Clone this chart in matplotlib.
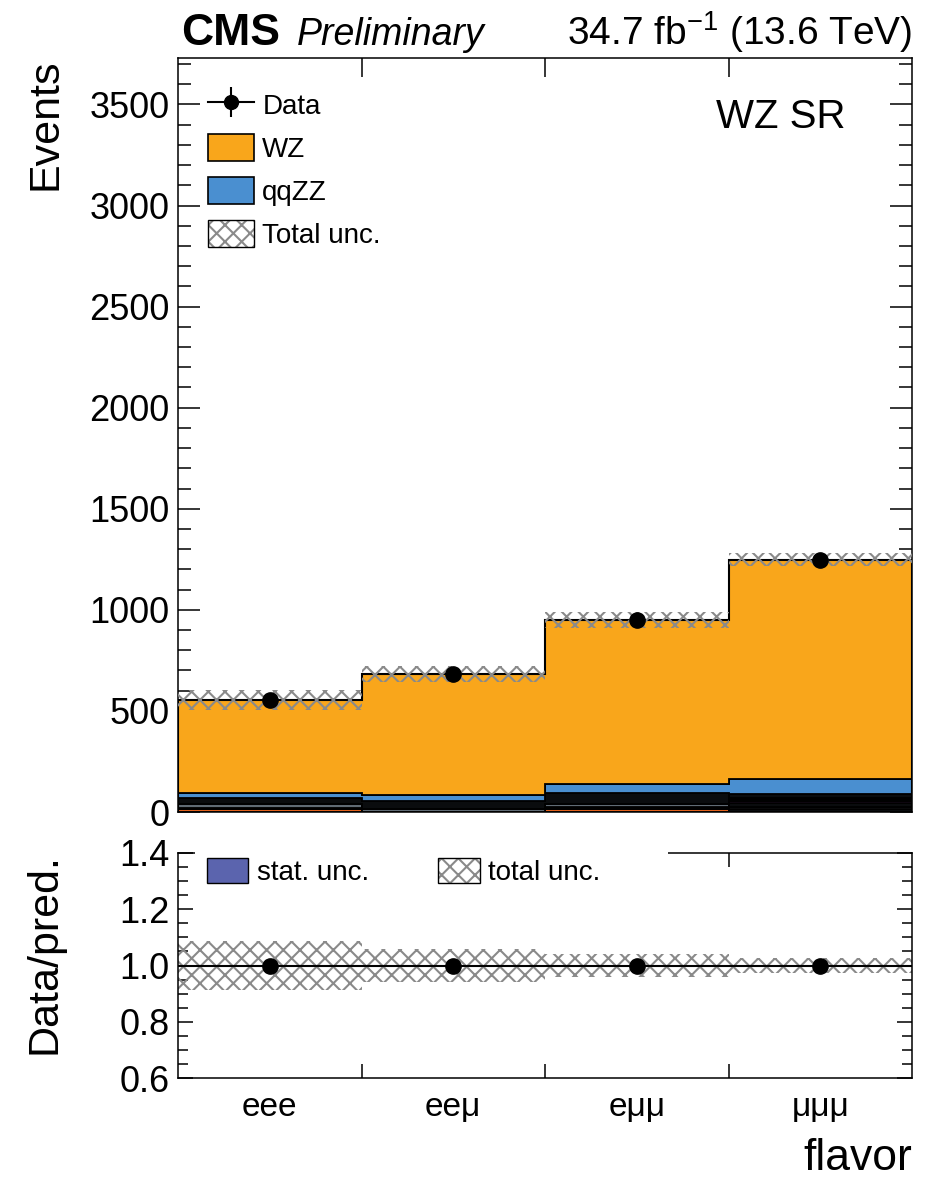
import numpy as np
import matplotlib
matplotlib.use("Agg")
import matplotlib.pyplot as plt
from matplotlib.patches import Patch, Rectangle
from matplotlib.lines import Line2D
from matplotlib.legend_handler import HandlerTuple
from matplotlib.ticker import MultipleLocator, FixedLocator, NullFormatter, FixedFormatter

plt.rcParams['font.family'] = ['Liberation Sans', 'DejaVu Sans']
plt.rcParams['hatch.linewidth'] = 1.5

# ---------------- data ----------------
categories = ["eee", "ee\u03bc", "e\u03bc\u03bc", "\u03bc\u03bc\u03bc"]
data = [554, 683, 950, 1248]
wz = [458, 597, 810, 1086]
qqzz = [25, 32, 48, 74]
# minor backgrounds (not in legend), bottom to top
bkg_red = [13, 0, 15, 0]
bkg_black1 = [8, 0, 10, 15]
bkg_gray = [20, 13, 17, 10]
bkg_black2 = [30, 41, 50, 21]
bkg_purple1 = [0, 0, 0, 8]
bkg_black3 = [0, 0, 0, 10]
bkg_purple2 = [0, 0, 0, 7]
bkg_black4 = [0, 0, 0, 17]
total_unc_rel = [0.086, 0.060, 0.040, 0.025]
stat_unc_rel = [0.002, 0.002, 0.002, 0.001]

C_WZ = "#f9a61b"
C_QQZZ = "#4a8fd0"
C_RED = "#e0601c"
C_GRAY = "#606b74"
C_BLACK = "#0a0c0e"
C_PURPLE = "#8e3fa0"
C_STAT = "#5b64ae"
C_HATCH = "#8a8a8a"

stack = [
    (bkg_red, C_RED),
    (bkg_black1, C_BLACK),
    (bkg_gray, C_GRAY),
    (bkg_black2, C_BLACK),
    (bkg_purple1, C_PURPLE),
    (bkg_black3, C_BLACK),
    (bkg_purple2, C_PURPLE),
    (bkg_black4, C_BLACK),
    (qqzz, C_QQZZ),
    (wz, C_WZ),
]

nb = len(categories)
edges = np.arange(nb + 1, dtype=float)
centers = edges[:-1] + 0.5

W, H = 935, 1177
fig = plt.figure(figsize=(W / 100, H / 100), dpi=100)

def ax_rect(l, r, t, b):
    return [l / W, 1 - b / H, (r - l) / W, (b - t) / H]

ax = fig.add_axes(ax_rect(178, 912, 58, 812))
rax = fig.add_axes(ax_rect(178, 912, 853, 1078))

# ---------------- main panel ----------------
bottom = np.zeros(nb)
for vals, col in stack:
    v = np.asarray(vals, dtype=float)
    ax.stairs(bottom + v, edges, baseline=bottom, fill=True, facecolor=col,
              edgecolor="black", linewidth=1.3, zorder=2)
    bottom = bottom + v
total = bottom
ax.stairs(total, edges, color="black", linewidth=1.5, zorder=3)

unc_abs = total * np.asarray(total_unc_rel)
ax.stairs(total + unc_abs, edges, baseline=total - unc_abs, fill=True,
          facecolor="none", edgecolor=C_HATCH, hatch="xx", linewidth=0, zorder=4)

data_arr = np.asarray(data, dtype=float)
ax.errorbar(centers, data_arr, yerr=np.sqrt(data_arr), fmt="o", color="black",
            markersize=11, elinewidth=1.2, capsize=0, zorder=6)

ax.set_xlim(0, nb)
ax.set_ylim(0, 3730)
ax.yaxis.set_major_locator(MultipleLocator(500))
ax.yaxis.set_minor_locator(MultipleLocator(100))
ax.xaxis.set_major_locator(FixedLocator([1, 2, 3]))
ax.xaxis.set_major_formatter(NullFormatter())
ax.tick_params(axis="both", which="both", direction="in", top=True, right=True,
               width=1.1, labelsize=26, pad=6)
ax.tick_params(axis="y", which="major", length=16)
ax.tick_params(axis="y", which="minor", length=9.5)
ax.tick_params(axis="x", which="major", length=14, bottom=False)
for s in ax.spines.values():
    s.set_linewidth(1.1)

# legend main
h_data = (Line2D([], [], color="black", lw=1.5),
          Line2D([], [], marker="|", markersize=22, color="black", ls="none", mew=1.5),
          Line2D([], [], marker="o", markersize=10, color="black", ls="none"))
h_wz = Patch(facecolor=C_WZ, edgecolor="black", linewidth=1.2)
h_qq = Patch(facecolor=C_QQZZ, edgecolor="black", linewidth=1.2)
h_unc = (Patch(facecolor="white", edgecolor=C_HATCH, hatch="xx", linewidth=0),
         Patch(facecolor="none", edgecolor="black", linewidth=1.0))
leg = ax.legend([h_data, h_wz, h_qq, h_unc], ["Data", "WZ", "qqZZ", "Total unc."],
                loc="upper left", bbox_to_anchor=(0.041, 0.957), frameon=False,
                fontsize=20, handlelength=1.65, handleheight=1.15, labelspacing=0.5,
                handletextpad=0.3, borderpad=0, borderaxespad=0,
                handler_map={tuple: HandlerTuple(ndivide=1)})

ax.text(0.909, 0.907, "WZ SR", transform=ax.transAxes, ha="right", va="baseline",
        fontsize=29)

# ---------------- ratio panel ----------------
ratio = data_arr / total
rel = np.asarray(total_unc_rel)
srel = np.asarray(stat_unc_rel)
rax.stairs(1 + rel, edges, baseline=1 - rel, fill=True, facecolor="none",
           edgecolor=C_HATCH, hatch="xx", linewidth=0, zorder=2)
rax.stairs(1 + srel, edges, baseline=1 - srel, fill=True, facecolor=C_STAT,
           linewidth=0, zorder=2)
rax.axhline(1.0, color="black", linewidth=1.5, zorder=3)
rax.plot(centers, ratio, "o", color="black", markersize=11, zorder=6)

rax.set_xlim(0, nb)
rax.set_ylim(0.6, 1.4)
rax.set_yticks([0.6, 0.8, 1.0, 1.2, 1.4])
rax.set_yticklabels(["0.6", "0.8", "1.0", "1.2", "1.4"])
rax.yaxis.set_minor_locator(MultipleLocator(0.05))
rax.xaxis.set_major_locator(FixedLocator([1, 2, 3]))
rax.xaxis.set_major_formatter(NullFormatter())
rax.xaxis.set_minor_locator(FixedLocator(list(centers)))
rax.xaxis.set_minor_formatter(FixedFormatter(categories))
rax.tick_params(axis="both", which="both", direction="in", top=True, right=True,
                width=1.1, labelsize=26, pad=6)
rax.tick_params(axis="y", which="major", length=11)
rax.tick_params(axis="y", which="minor", length=7)
rax.tick_params(axis="x", which="major", length=10)
rax.tick_params(axis="x", which="minor", length=0, labelsize=24, pad=10)
for s in rax.spines.values():
    s.set_linewidth(1.1)

# white box covering part of ratio top spine (as in reference)
rax.add_patch(Rectangle((0.023, 0.86), 0.645, 0.16, transform=rax.transAxes,
                        facecolor="white", edgecolor="none", clip_on=False, zorder=2.6))

h_stat = Patch(facecolor=C_STAT, edgecolor="black", linewidth=1.0)
rleg = rax.legend([h_stat, h_unc], ["stat. unc.", "total unc."], loc="upper left",
                  bbox_to_anchor=(0.039, 0.98), ncol=2, frameon=False, fontsize=20,
                  handlelength=1.5, handleheight=1.05, handletextpad=0.3,
                  columnspacing=2.5, borderpad=0, borderaxespad=0,
                  handler_map={tuple: HandlerTuple(ndivide=1)})
rleg.set_zorder(7)

# ---------------- texts ----------------
fig.text(181 / W, 1 - 45 / H, "CMS", fontsize=32, fontweight="bold", ha="left",
         va="baseline")
fig.text(297 / W, 1 - 45 / H, "Preliminary", fontsize=27, fontstyle="italic",
         ha="left", va="baseline")
fig.text(912 / W, 1 - 45 / H, r"34.7 fb$^{\mathregular{-1}}$ (13.6 TeV)", fontsize=28,
         ha="right", va="baseline")
fig.text(45 / W, 1 - 58 / H, "Events", rotation=90, fontsize=31, ha="center", va="top")
fig.text(45 / W, 1 - 853 / H, "Data/pred.", rotation=90, fontsize=31, ha="center",
         va="top")
fig.text(912 / W, 1 - 1170 / H, "flavor", fontsize=32, ha="right", va="baseline")

fig.savefig("out.png", dpi=100)
